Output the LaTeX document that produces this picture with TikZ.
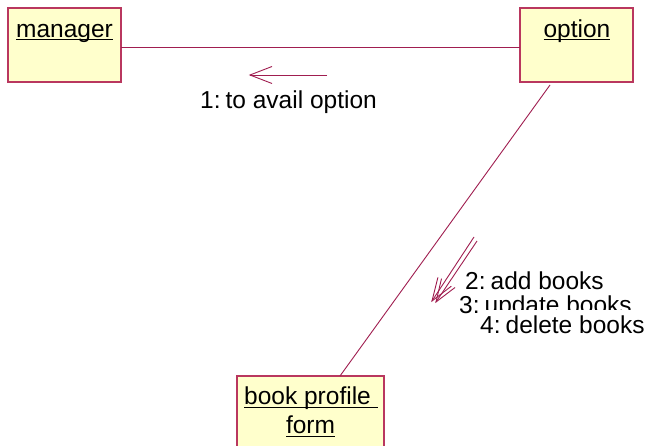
\documentclass[tikz,border=0pt]{standalone}
\usepackage{fontspec}
\setmainfont{Liberation Sans}
\definecolor{edge}{RGB}{160,30,80}
\definecolor{boxfill}{RGB}{255,255,204}
\definecolor{boxline}{RGB}{185,55,95}
\newcommand{\ulin}[1]{\setbox0\hbox{#1}\rlap{\rule[-3pt]{\wd0}{1.3pt}}\box0}
\newcommand{\cs}{\kern5pt}
\tikzset{
  x={(1pt,0)}, y={(0,-1pt)},
  objbox/.style={draw=boxline, fill=boxfill, line width=1.3pt},
  lbl/.style={font=\fontsize{24.5}{28}\selectfont, inner sep=0pt, anchor=base west},
  link/.style={draw=edge, line width=0.9pt},
  msg/.style={draw=edge, line width=0.9pt, line join=miter}
}
\begin{document}
\begin{tikzpicture}
\useasboundingbox (0,0) rectangle (649,446);
\clip (0,0) rectangle (649,446);
\fill[white] (0,0) rectangle (649,446);
% boxes
\path[objbox] (8,8) rectangle (121,82);
\path[objbox] (520,8) rectangle (633,82);
\path[objbox] (237,376) rectangle (384,470);
\coordinate (mgrE) at (121,47);
\coordinate (optW) at (520,47);
\coordinate (optB) at (550,85);
\coordinate (bpfT) at (340,376);
% texts
\node[lbl, anchor=base] (mgr) at (64.5,37.5) {\ulin{manager}};
\node[lbl, anchor=base] (opt) at (577,37.5) {\ulin{option}};
\node[lbl] (bpf1) at (244,405) {\ulin{book profile }};
\node[lbl, anchor=base] (bpf2) at (310.5,434) {\ulin{form}};
% links
\draw[link] (mgrE) -- (optW);
\draw[link] (optB) -- (bpfT);
% message 1
\coordinate (m1s) at (327,75);
\coordinate (m1t) at (250,75);
\draw[msg] (m1s) -- (m1t);
\draw[msg] (272,66.5) -- (m1t) -- (272,83.5);
\node[lbl] (l1) at (200,109) {1:\cs to avail option};
% messages 2-4
\coordinate (m2s) at (474,237);
\coordinate (m2t) at (432,301);
\draw[msg] (m2s) -- (m2t);
\draw[msg] (437.9,277.4) -- (m2t) -- (451.3,286.2);
\coordinate (m3s) at (477,241);
\coordinate (m3t) at (436,302);
\draw[msg] (m3s) -- (m3t);
\draw[msg] (441.5,278.6) -- (m3t) -- (455,287.5);
\node[lbl] (l2) at (465,290) {2:\cs add books};
\node[lbl] (l3) at (459,314) {3:\cs update books};
\fill[white] (481,310) rectangle (649,345);
\node[lbl] (l4) at (480,334) {4:\cs delete books};
\end{tikzpicture}
\end{document}
